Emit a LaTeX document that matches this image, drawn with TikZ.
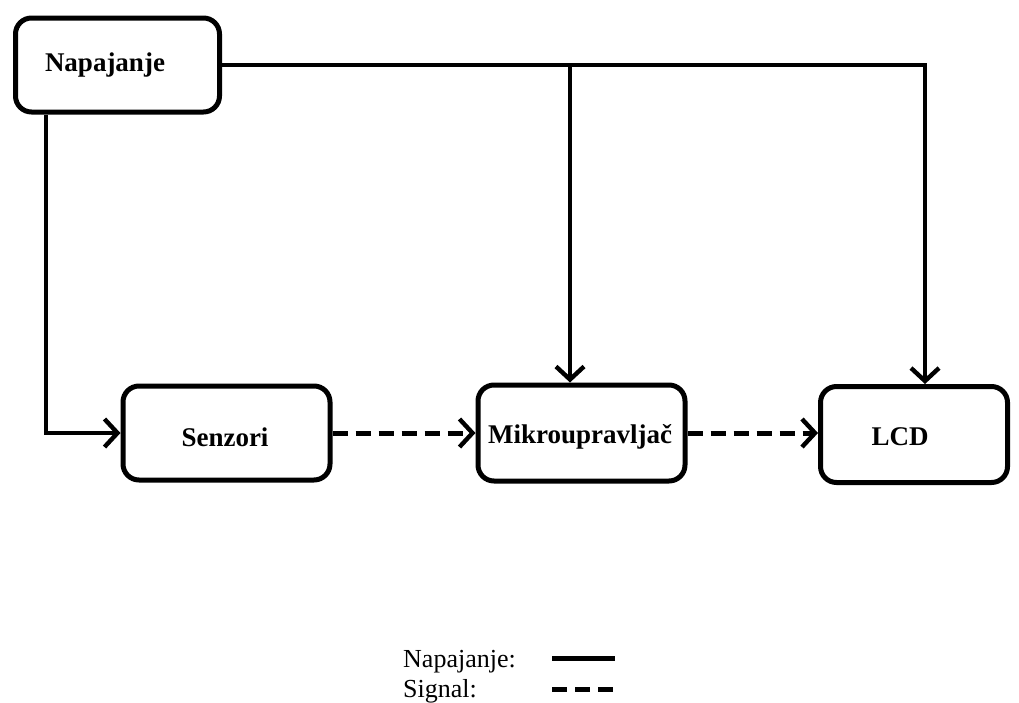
\documentclass[tikz,border=0pt]{standalone}
\usepackage{fontspec}
\setmainfont{Liberation Serif}
\usetikzlibrary{arrows.meta}
\begin{document}
\begin{tikzpicture}[x=1pt,y=-1pt,
  box/.style={draw,line width=5pt,rounded corners=16pt,inner sep=0pt},
  lbl/.style={font=\fontsize{27}{30}\selectfont\bfseries,inner sep=0pt},
  power/.style={line width=4.6pt,-{Straight Barb[length=13pt,width=28pt,line width=4.4pt]}},
  signal/.style={line width=5pt,dash pattern=on 15pt off 8pt,-{Straight Barb[length=13pt,width=28pt,line width=4.4pt]}},
  leg/.style={font=\fontsize{26}{30}\selectfont,inner sep=0pt,anchor=base west}]
\useasboundingbox (0,0) rectangle (1019,702);
\fill[white] (0,0) rectangle (1019,702);
% boxes
\node[box,minimum width=204pt,minimum height=94pt] (nap) at (117.5,65) {};
\node[box,minimum width=207pt,minimum height=94pt] (sen) at (226.5,433) {};
\node[box,minimum width=207pt,minimum height=96pt] (mik) at (581.5,433) {};
\node[box,minimum width=187pt,minimum height=96pt] (lcd) at (914,434.5) {};
% texts
\node[lbl] (tnap) at (105,65) {Napajanje};
\node[lbl] (tsen) at (225,437) {Senzori};
\node[lbl] (tmik) at (580,437) {Mikroupravljač};
\node[lbl] (tlcd) at (900,437) {LCD};
% power lines
\coordinate (j1) at (570,65);
\draw[line width=4.6pt] (nap.east) -- (j1);
\draw[power] (j1) -- (j1 |- mik.north);
\draw[power] (j1) -- (925,65) -- (925,0 |- lcd.north);
\draw[power] (46,0 |- nap.south) -- (46,0 |- sen.west) -- (sen.west);
% signal lines
\draw[signal] (sen.east) -- (mik.west);
\draw[signal] (mik.east) -- (0,433 -| lcd.west);
% legend
\node[leg] (l1) at (403,667) {Napajanje:};
\node[leg] (l2) at (403,697) {Signal:};
\coordinate (a1) at (552,658);
\coordinate (b1) at (615,658);
\coordinate (a2) at (552,689);
\coordinate (b2) at (615,689);
\draw[line width=5pt] (a1) -- (b1);
\draw[line width=5pt,dash pattern=on 15pt off 8pt] (a2) -- (b2);
\end{tikzpicture}
\end{document}
